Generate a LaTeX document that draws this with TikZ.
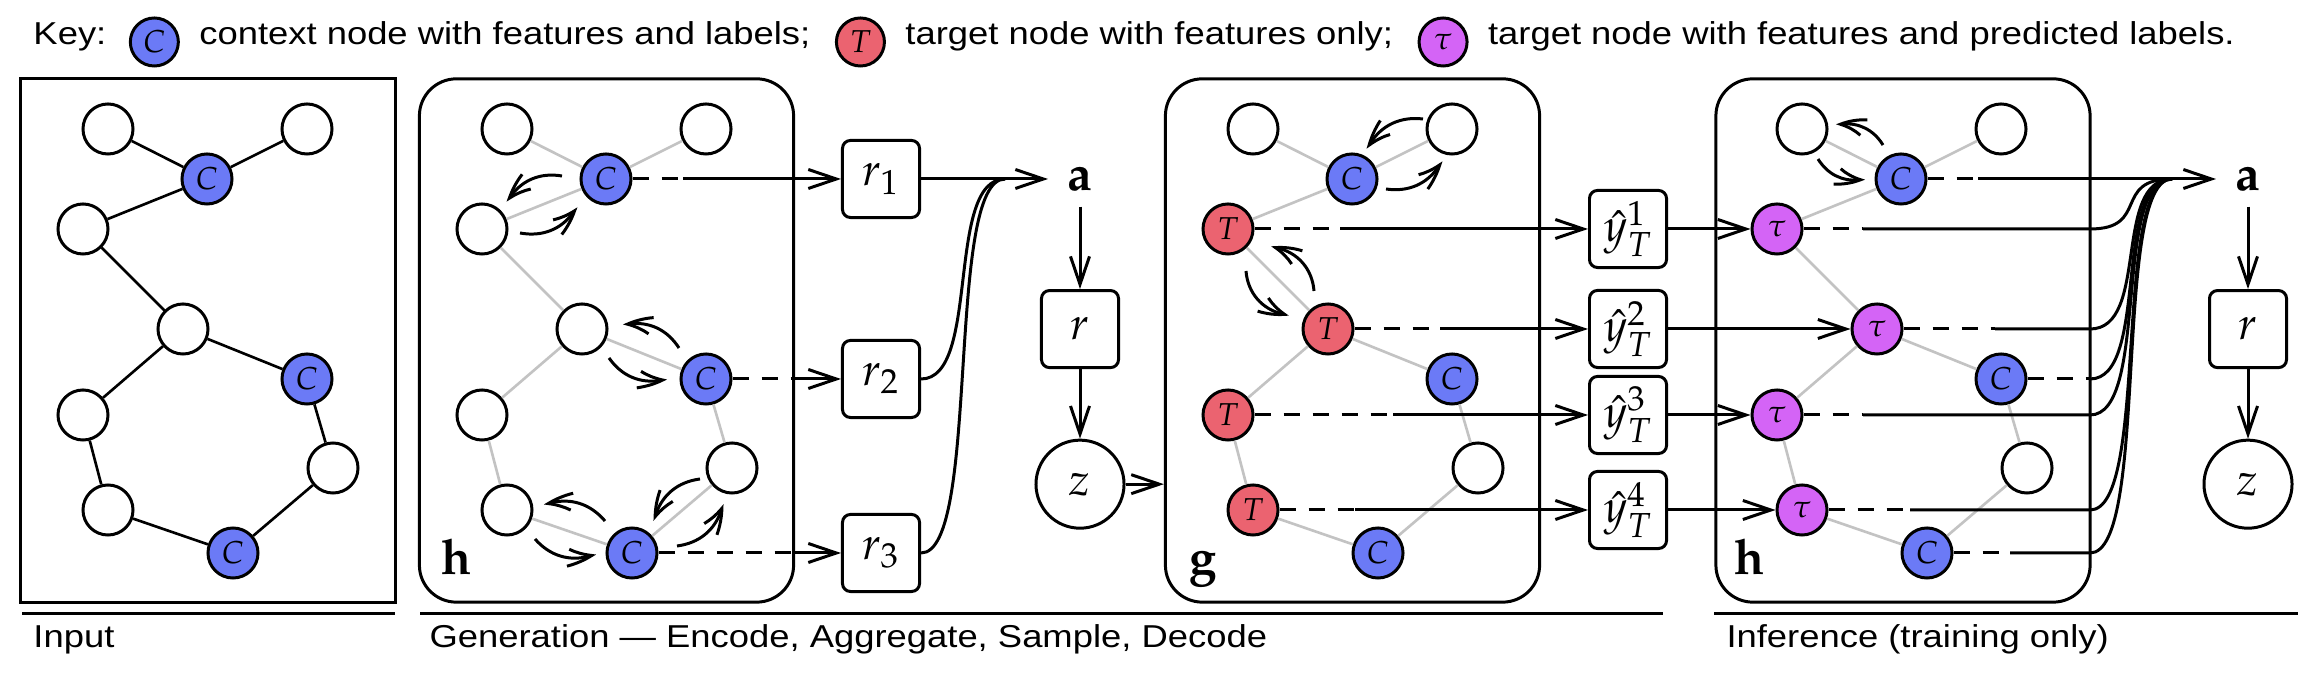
\documentclass[tikz,border=0pt]{standalone}
\usepackage{mathpazo}
\usepackage[no-math]{fontspec}
\setmainfont{Liberation Sans}[FakeStretch=1.15]
\usetikzlibrary{positioning, arrows.meta, bending}

\definecolor{ctxblue}{RGB}{107,122,246}
\definecolor{tgtred}{RGB}{235,99,112}
\definecolor{prdpink}{RGB}{212,100,246}
\definecolor{edgegray}{RGB}{195,195,195}

\begin{document}
\begin{tikzpicture}[x=0.01cm, y=-0.01cm, line width=0.85pt,
    arr/.style={-{Straight Barb[length=0.28cm,width=0.19cm]}},
    msg/.style={-{Straight Barb[length=0.24cm,width=0.17cm,bend]}},
    vertex/.style={circle, draw, fill=white, minimum size=0.5cm, inner sep=0pt, font=\fontsize{9}{10}\selectfont},
    ctx/.style={vertex, fill=ctxblue},
    tgt/.style={vertex, fill=tgtred},
    prd/.style={vertex, fill=prdpink},
    link/.style={draw=edgegray, line width=0.75pt},
    panel/.style={draw, rounded corners=0.37cm, minimum width=3.74cm, minimum height=5.23cm, inner sep=0pt},
    box/.style={draw, rounded corners=0.08cm, minimum size=0.77cm, inner sep=0pt, font=\fontsize{13}{15}\selectfont},
    var/.style={inner xsep=5pt, inner ysep=4pt, font=\fontsize{14}{16}\selectfont},
    dashline/.style={dash pattern=on 0.16cm off 0.13cm},
    fanin/.style={out=0, in=180, distance=0.6cm},
    keytext/.style={inner sep=0pt, text height=0.31cm, text depth=0.25cm, font=\fontsize{9}{11}\selectfont},
    caption/.style={anchor=base west, inner sep=0pt, font=\fontsize{9}{11}\selectfont}]
	\useasboundingbox (0,0) rectangle (2312,686);

	% key
	\node[keytext, anchor=west] (key) at (32,42) {Key:};
	\node[ctx, minimum size=0.48cm, right=0.21cm of key] (kc) {$C$};
	\node[keytext, right=0.18cm of kc] (kct) {context node with features and labels;};
	\node[tgt, minimum size=0.48cm, right=0.23cm of kct] (kt) {$T$};
	\node[keytext, right=0.18cm of kt] (ktt) {target node with features only;};
	\node[prd, minimum size=0.48cm, right=0.23cm of ktt] (kp) {$\tau$};
	\node[keytext, right=0.18cm of kp] (kpt) {target node with features and predicted labels.};

	% input graph
	\node[panel, sharp corners] (inbox) at (208,340.5) {};
	\node[vertex] (i1) at (108,129) {};
	\node[vertex] (i2) at (307,129) {};
	\node[ctx] (i3) at (207,179) {$C$};
	\node[vertex] (i4) at (83,229) {};
	\node[vertex] (i5) at (183,329) {};
	\node[ctx] (i6) at (307,379) {$C$};
	\node[vertex] (i7) at (83,415) {};
	\node[vertex] (i8) at (333,468) {};
	\node[vertex] (i9) at (108,510) {};
	\node[ctx] (i10) at (233,553) {$C$};
	\draw[line width=0.75pt] (i1) -- (i3) -- (i2) (i3) -- (i4) -- (i5) -- (i6) -- (i8) -- (i10) -- (i9) -- (i7) -- (i5);

	% encoder h
	\begin{scope}[shift={(399,0)}]
	\node[panel] (ebox) at (207.5,340.5) {};
	\node[vertex] (e1) at (108,129) {};
	\node[vertex] (e2) at (307,129) {};
	\node[ctx] (e3) at (207,179) {$C$};
	\node[vertex] (e4) at (83,229) {};
	\node[vertex] (e5) at (183,329) {};
	\node[ctx] (e6) at (307,379) {$C$};
	\node[vertex] (e7) at (83,415) {};
	\node[vertex] (e8) at (333,468) {};
	\node[vertex] (e9) at (108,510) {};
	\node[ctx] (e10) at (233,553) {$C$};
	\node[var, anchor=base] (elab) at (58,575) {$\mathbf{h}$};
	\end{scope}
	\draw[link] (e1) -- (e3) -- (e2) (e3) -- (e4) -- (e5) -- (e6) -- (e8) -- (e10) -- (e9) -- (e7) -- (e5);

	\draw[msg] ([shift={(-44,-3)}]e3.center) to[bend right=35] ([shift={(25,-27)}]e4.center);
	\draw[msg] ([shift={(38,4)}]e4.center) to[bend right=35] ([shift={(-29,28)}]e3.center);
	\draw[msg] ([shift={(-27,-31)}]e6.center) to[bend right=35] ([shift={(41,-4)}]e5.center);
	\draw[msg] ([shift={(27,29)}]e5.center) to[bend right=35] ([shift={(-39,0)}]e6.center);
	\draw[msg] ([shift={(-27,-32)}]e10.center) to[bend right=35] ([shift={(37,-5)}]e9.center);
	\draw[msg] ([shift={(28,29)}]e9.center) to[bend right=35] ([shift={(-36,1)}]e10.center);
	\draw[msg] ([shift={(-32,11)}]e8.center) to[bend right=35] ([shift={(22,-32)}]e10.center);
	\draw[msg] ([shift={(45,-7)}]e10.center) to[bend right=35] ([shift={(-9,36)}]e8.center);

	% aggregate and sample
	\node[box] (r1) at (881,179) {$r_1$};
	\node[box] (r2) at (881,379) {$r_2$};
	\node[box] (r3) at (881,553) {$r_3$};
	\node[var] (agen) at (1080,179) {$\mathbf{a}$};
	\node[box] (rgen) [on grid, below=1.5cm of agen] {$r$};
	\node[circle, draw, minimum size=0.88cm, inner sep=0pt, font=\fontsize{13}{15}\selectfont] (zgen) [on grid, below=1.55cm of rgen] {$z$};

	\coordinate (d1) at (683,179);
	\coordinate (d2) at (792,379);
	\coordinate (d3) at (793,553);
	\coordinate (j1) at (1005,179);
	\draw[dashline] (e3) -- (d1);
	\draw[dashline] (e6) -- (d2);
	\draw[dashline] (e10) -- (d3);
	\draw[arr] (d1) -- (r1);
	\draw[arr] (d2) -- (r2);
	\draw[arr] (d3) -- (r3);
	\draw[arr] (r1) -- (agen);
	\draw (r2) to[fanin] (j1);
	\draw (r3) to[fanin] (j1);
	\draw[arr] (agen) -- (rgen);
	\draw[arr] (rgen) -- (zgen);

	% decoder g
	\begin{scope}[shift={(1145,0)}]
	\node[panel] (gbox) at (207.5,340.5) {};
	\node[vertex] (g1) at (108,129) {};
	\node[vertex] (g2) at (307,129) {};
	\node[ctx] (g3) at (207,179) {$C$};
	\node[tgt] (g4) at (83,229) {$T$};
	\node[tgt] (g5) at (183,329) {$T$};
	\node[ctx] (g6) at (307,379) {$C$};
	\node[tgt] (g7) at (83,415) {$T$};
	\node[vertex] (g8) at (333,468) {};
	\node[tgt] (g9) at (108,510) {$T$};
	\node[ctx] (g10) at (233,553) {$C$};
	\node[var, anchor=base] (glab) at (58,575) {$\mathbf{g}$};
	\end{scope}
	\draw[link] (g1) -- (g3) -- (g2) (g3) -- (g4) -- (g5) -- (g6) -- (g8) -- (g10) -- (g9) -- (g7) -- (g5);
	\draw[arr] (zgen) -- (zgen -| gbox.west);

	\draw[msg] ([shift={(-29,-10)}]g2.center) to[bend right=35] ([shift={(15,-30)}]g3.center);
	\draw[msg] ([shift={(34,10)}]g3.center) to[bend right=35] ([shift={(-10,32)}]g2.center);
	\draw[msg] ([shift={(-14,-38)}]g5.center) to[bend right=40] ([shift={(43,18)}]g4.center);
	\draw[msg] ([shift={(18,42)}]g4.center) to[bend right=40] ([shift={(-39,-14)}]g5.center);

	% predicted labels
	\node[box] (y1) at (1628,229) {$\hat{y}^1_T$};
	\node[box] (y2) at (1628,329) {$\hat{y}^2_T$};
	\node[box] (y3) at (1628,415) {$\hat{y}^3_T$};
	\node[box] (y4) at (1628,510) {$\hat{y}^4_T$};
	\coordinate (d4) at (1340,229);
	\coordinate (d5) at (1440,329);
	\coordinate (d6) at (1393,415);
	\coordinate (d7) at (1355,510);
	\draw[dashline] (g4) -- (d4);
	\draw[dashline] (g5) -- (d5);
	\draw[dashline] (g7) -- (d6);
	\draw[dashline] (g9) -- (d7);
	\draw[arr] (d4) -- (y1);
	\draw[arr] (d5) -- (y2);
	\draw[arr] (d6) -- (y3);
	\draw[arr] (d7) -- (y4);

	% inference h
	\begin{scope}[shift={(1694,0)}]
	\node[panel] (fbox) at (209,340.5) {};
	\node[vertex] (f1) at (108,129) {};
	\node[vertex] (f2) at (307,129) {};
	\node[ctx] (f3) at (207,179) {$C$};
	\node[prd] (f4) at (83,229) {$\tau$};
	\node[prd] (f5) at (183,329) {$\tau$};
	\node[ctx] (f6) at (307,379) {$C$};
	\node[prd] (f7) at (83,415) {$\tau$};
	\node[vertex] (f8) at (333,468) {};
	\node[prd] (f9) at (108,510) {$\tau$};
	\node[ctx] (f10) at (233,553) {$C$};
	\node[var, anchor=base] (flab) at (56,575) {$\mathbf{h}$};
	\end{scope}
	\draw[link] (f1) -- (f3) -- (f2) (f3) -- (f4) -- (f5) -- (f6) -- (f8) -- (f10) -- (f9) -- (f7) -- (f5);
	\draw[arr] (y1) -- (f4);
	\draw[arr] (y2) -- (f5);
	\draw[arr] (y3) -- (f7);
	\draw[arr] (y4) -- (f9);

	\draw[msg] ([shift={(-18,-34)}]f3.center) to[bend right=35] ([shift={(34,-4)}]f1.center);
	\draw[msg] ([shift={(16,30)}]f1.center) to[bend right=35] ([shift={(-36,0)}]f3.center);

	\node[var] (ainf) at (2248,179) {$\mathbf{a}$};
	\node[box] (rinf) [on grid, below=1.5cm of ainf] {$r$};
	\node[circle, draw, minimum size=0.88cm, inner sep=0pt, font=\fontsize{13}{15}\selectfont] (zinf) [on grid, below=1.55cm of rinf] {$z$};
	\draw[arr] (ainf) -- (rinf);
	\draw[arr] (rinf) -- (zinf);

	\coordinate (ex) at (2090,0);
	\coordinate (j2) at (2172,179);
	\coordinate (d8) at (1978,179);
	\coordinate (d9) at (1863,229);
	\coordinate (d10) at (1995,329);
	\coordinate (d11) at (2090,379);
	\coordinate (d12) at (1863,415);
	\coordinate (d13) at (1910,510);
	\coordinate (d14) at (2010,553);
	\draw[dashline] (f3) -- (d8);
	\draw[dashline] (f4) -- (d9);
	\draw[dashline] (f5) -- (d10);
	\draw[dashline] (f6) -- (d11);
	\draw[dashline] (f7) -- (d12);
	\draw[dashline] (f9) -- (d13);
	\draw[dashline] (f10) -- (d14);
	\draw[arr] (d8) -- (ainf);
	\draw (d9) -- (d9 -| ex) to[fanin] (j2);
	\draw (d10) -- (d10 -| ex) to[fanin] (j2);
	\draw (d11) to[fanin] (j2);
	\draw (d12) -- (d12 -| ex) to[fanin] (j2);
	\draw (d13) -- (d13 -| ex) to[fanin] (j2);
	\draw (d14) -- (d14 -| ex) to[fanin] (j2);

	% stage captions
	\draw (22,614) -- (395,614);
	\draw (420,614) -- (1663,614);
	\draw (1714,614) -- (2298,614);
	\node[caption] (incap) at (32,648) {Input};
	\node[caption] (gencap) at (428,648) {Generation --- Encode, Aggregate, Sample, Decode};
	\node[caption] (infcap) at (1725,648) {Inference (training only)};
\end{tikzpicture}
\end{document}
